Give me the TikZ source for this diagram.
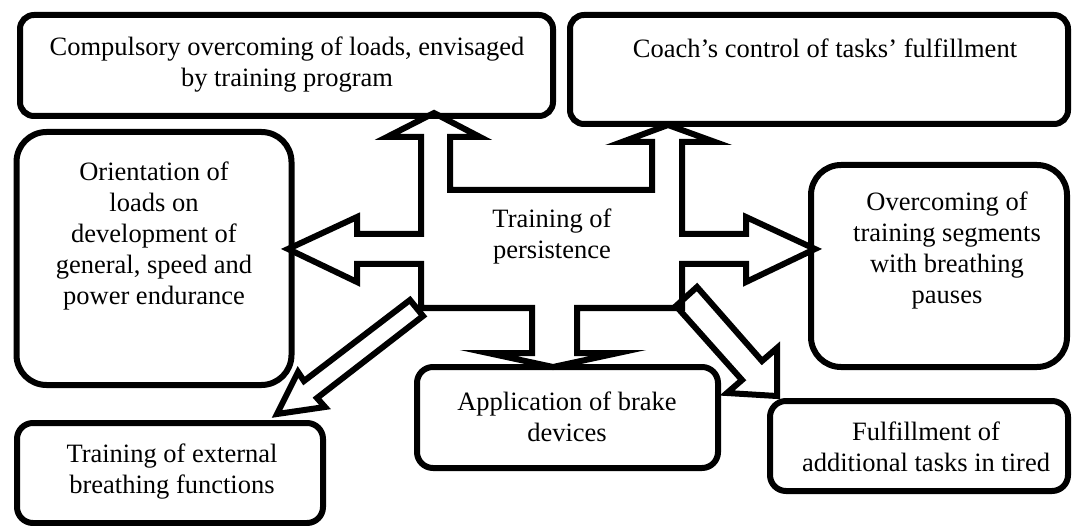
\documentclass[tikz,border=0pt]{standalone}
\usepackage{fontspec}
\setmainfont{Liberation Serif}
\begin{document}
\begin{tikzpicture}[x=1pt,y=-1pt,
  box/.style={draw, rectangle, rounded corners=#1, inner sep=0pt, line width=6pt},
  txt/.style={inner sep=0pt, anchor=north, align=center, font=\fontsize{26.5}{31}\selectfont},
  blockarrow/.style={draw, line width=6pt, line join=miter, miter limit=10}]
\useasboundingbox (0,0) rectangle (1075,526);

% boxes
\node[box=14pt, minimum width=533pt, minimum height=101pt] (tl) at (286.5,65.5) {};
\node[box=14pt, minimum width=498pt, minimum height=109pt] (tr) at (819,69.5) {};
\node[box=30pt, minimum width=275pt, minimum height=253pt] (lm) at (154,258.5) {};
\node[box=30pt, minimum width=256pt, minimum height=202pt] (rm) at (939,266) {};
\node[box=16pt, minimum width=301pt, minimum height=101pt] (app) at (567.5,417.5) {};
\node[box=16pt, minimum width=298pt, minimum height=90pt] (lr) at (919,446) {};
\node[box=16pt, minimum width=306pt, minimum height=100pt] (ll) at (170,473) {};

% central four-way block arrow
\draw[blockarrow] (421,190) -- (421,137) -- (387,137) -- (434,113) -- (480,137) -- (450,137)
  -- (450,190) -- (652,190) -- (652,142) -- (622,142) -- (668,125) -- (715,142) -- (682,142)
  -- (682,234) -- (746,234) -- (746,217) -- (815,249) -- (746,282) -- (746,264) -- (682,264)
  -- (682,308) -- (577,308) -- (577,353) -- (618,353) -- (553,367) -- (488,353) -- (532,353)
  -- (532,308) -- (421,308) -- (421,264) -- (357,264) -- (357,282) -- (288,249) -- (357,217)
  -- (357,234) -- (421,234) -- cycle;

% diagonal block arrows
\draw[blockarrow] (410,300) -- (304,381) -- (298,372) -- (277,414) -- (325,407) -- (317,398)
  -- (423,316) -- cycle;
\draw[blockarrow] (697,287) -- (762,361) -- (777,348) -- (777,396) -- (727,393) -- (742,380)
  -- (676,306) -- cycle;

% texts
\node[txt] (tlt) at (287,35) {\rule{0pt}{20pt}Compulsory overcoming of loads, envisaged\\by training program};
\node[txt] (trt) at (825,37) {\rule{0pt}{20pt}Coach’s control of tasks’ fulfillment};
\node[txt] (lmt) at (154,160) {\rule{0pt}{20pt}Orientation of\\loads on\\development of\\general, speed and\\power endurance};
\node[txt] (rmt) at (947,190) {\rule{0pt}{20pt}Overcoming of\\training segments\\with breathing\\pauses};
\node[txt] (ctr) at (552,207) {\rule{0pt}{20pt}Training of\\persistence};
\node[txt] (appt) at (567,390) {\rule{0pt}{20pt}Application of brake\\devices};
\node[txt] (lrt) at (926,420) {\rule{0pt}{20pt}Fulfillment of\\additional tasks in tired};
\node[txt] (llt) at (172,442) {\rule{0pt}{20pt}Training of external\\breathing functions};
\end{tikzpicture}
\end{document}
